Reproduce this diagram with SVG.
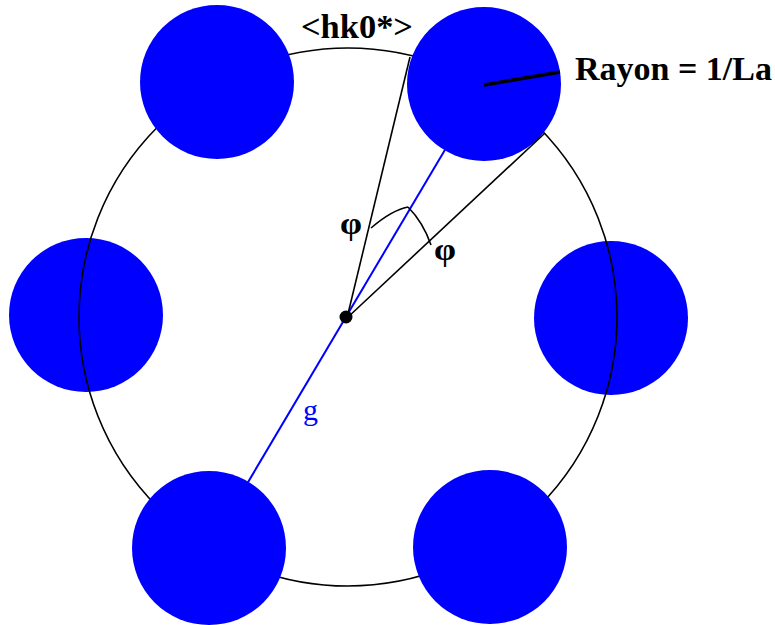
<svg xmlns="http://www.w3.org/2000/svg" width="775" height="625" viewBox="0 0 775 625">
<style>
.ball{fill:#0000ff;}
.ring{fill:none;stroke:#000;stroke-width:1.6;}
.ln{fill:none;stroke:#000;stroke-width:1.6;}
.bl{fill:none;stroke:#0000ff;stroke-width:2;}
.lbl{font-family:"Liberation Serif","Times New Roman",serif;font-weight:bold;fill:#000;}
.g{font-family:"Liberation Serif","Times New Roman",serif;fill:#0000ff;}
</style>
<rect width="775" height="625" fill="#fff"/>
<g id="connectors">
<line class="bl" x1="209" y1="548" x2="484" y2="84"/>
</g>
<g id="ball-left"><circle class="ball" cx="86" cy="315" r="77"/></g>
<g id="ball-right"><circle class="ball" cx="611" cy="318" r="77"/></g>
<g id="ring"><circle class="ring" cx="348" cy="317" r="269"/></g>
<g id="ball-topleft"><circle class="ball" cx="217" cy="82" r="77"/></g>
<g id="ball-topright"><circle class="ball" cx="484" cy="84" r="77"/></g>
<g id="ball-bottomleft"><circle class="ball" cx="209" cy="548" r="77"/></g>
<g id="ball-bottomright"><circle class="ball" cx="490" cy="547" r="77"/></g>
<g id="angles">
<line class="ln" x1="347" y1="318" x2="410" y2="57"/>
<line class="ln" x1="347" y1="318" x2="545" y2="133"/>
<path class="ln" d="M371,228 Q392,210 408,207"/>
<path class="ln" d="M408,207 Q423,222 431,245"/>
<line x1="484" y1="85" x2="560" y2="72" stroke="#000" stroke-width="3.5"/>
</g>
<g id="center"><circle cx="346" cy="317" r="6.5" fill="#000"/></g>
<g id="labels">
<text class="lbl" x="301" y="38" font-size="33" textLength="112" lengthAdjust="spacingAndGlyphs">&lt;hk0*&gt;</text>
<text class="lbl" x="575" y="80" font-size="33" textLength="197" lengthAdjust="spacingAndGlyphs">Rayon = 1/La</text>
<text class="lbl" x="340" y="234" font-size="32" textLength="22" lengthAdjust="spacingAndGlyphs">φ</text>
<text class="lbl" x="434" y="260" font-size="32" textLength="22" lengthAdjust="spacingAndGlyphs">φ</text>
<text class="g" x="303" y="420" font-size="30">g</text>
</g>
</svg>
